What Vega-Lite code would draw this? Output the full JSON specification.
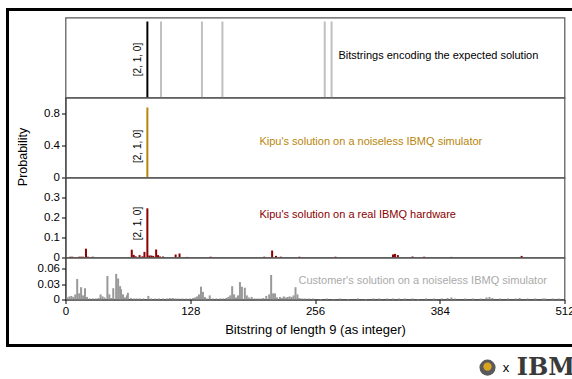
{
  "$schema": "https://vega.github.io/schema/vega-lite/v6.json",
  "padding": {"left": 4.5, "top": 6.5, "right": 0, "bottom": 0},
  "background": "white",
  "spacing": 0,
  "bounds": "flush",
  "config": {
    "font": "Liberation Sans",
    "view": {"stroke": "#555", "strokeWidth": 1.2},
    "axis": {"labelFont": "Liberation Sans", "labelFontSize": 11.5, "labelColor": "#000", "tickColor": "#000", "domainColor": "#333", "grid": false, "labelOverlap": false, "tickCount": 20, "titleFont": "Liberation Sans", "titleFontWeight": "normal", "titleColor": "#000"}
  },
  "datasets": {
    "one": [{"n": 1}],
    "expected": [
      {"x": 84, "kind": "main"}, {"x": 98, "kind": "other"}, {"x": 140, "kind": "other"},
      {"x": 161, "kind": "other"}, {"x": 266, "kind": "other"}, {"x": 273, "kind": "other"}
    ],
    "kipuSim": [
      {"x": 84, "p": 0.875}, {"x": 100, "p": 0.004}, {"x": 113, "p": 0.004},
      {"x": 197, "p": 0.004}, {"x": 336, "p": 0.004}, {"x": 339, "p": 0.004}
    ],
    "kipuHw": [
      {"x": 5, "p": 0.004}, {"x": 7, "p": 0.004}, {"x": 14, "p": 0.004}, {"x": 16, "p": 0.004}, {"x": 18, "p": 0.004},
      {"x": 21, "p": 0.044}, {"x": 23, "p": 0.004}, {"x": 28, "p": 0.004}, {"x": 68, "p": 0.039}, {"x": 70, "p": 0.013},
      {"x": 72, "p": 0.006}, {"x": 76, "p": 0.012}, {"x": 79, "p": 0.006}, {"x": 81, "p": 0.028}, {"x": 84, "p": 0.246},
      {"x": 86, "p": 0.01}, {"x": 88, "p": 0.01}, {"x": 90, "p": 0.008}, {"x": 93, "p": 0.04}, {"x": 95, "p": 0.012},
      {"x": 97, "p": 0.005}, {"x": 100, "p": 0.005}, {"x": 113, "p": 0.015}, {"x": 117, "p": 0.02}, {"x": 125, "p": 0.003},
      {"x": 149, "p": 0.004}, {"x": 204, "p": 0.004}, {"x": 212, "p": 0.035}, {"x": 216, "p": 0.008}, {"x": 221, "p": 0.004},
      {"x": 240, "p": 0.004}, {"x": 277, "p": 0.004}, {"x": 336, "p": 0.015}, {"x": 338, "p": 0.018}, {"x": 341, "p": 0.012},
      {"x": 356, "p": 0.005}, {"x": 368, "p": 0.004}, {"x": 396, "p": 0.003}, {"x": 468, "p": 0.008}
    ],
    "customer": [
      {"x": 2, "p": 0.004}, {"x": 4, "p": 0.006}, {"x": 6, "p": 0.007}, {"x": 8, "p": 0.005}, {"x": 10, "p": 0.01},
      {"x": 12, "p": 0.04}, {"x": 14, "p": 0.012}, {"x": 16, "p": 0.024}, {"x": 18, "p": 0.008}, {"x": 20, "p": 0.022},
      {"x": 22, "p": 0.005}, {"x": 25, "p": 0.002}, {"x": 28, "p": 0.002}, {"x": 31, "p": 0.002}, {"x": 34, "p": 0.003},
      {"x": 36, "p": 0.01}, {"x": 38, "p": 0.006}, {"x": 40, "p": 0.004}, {"x": 43, "p": 0.046}, {"x": 45, "p": 0.01},
      {"x": 47, "p": 0.003}, {"x": 49, "p": 0.022}, {"x": 52, "p": 0.05}, {"x": 54, "p": 0.041}, {"x": 56, "p": 0.026},
      {"x": 57, "p": 0.02}, {"x": 59, "p": 0.01}, {"x": 61, "p": 0.004}, {"x": 63, "p": 0.008}, {"x": 64, "p": 0.013},
      {"x": 67, "p": 0.003}, {"x": 70, "p": 0.002}, {"x": 73, "p": 0.002}, {"x": 76, "p": 0.002}, {"x": 80, "p": 0.002},
      {"x": 85, "p": 0.007}, {"x": 88, "p": 0.002}, {"x": 92, "p": 0.002}, {"x": 96, "p": 0.002}, {"x": 100, "p": 0.002},
      {"x": 104, "p": 0.002}, {"x": 107, "p": 0.003}, {"x": 110, "p": 0.003}, {"x": 113, "p": 0.002}, {"x": 116, "p": 0.002},
      {"x": 120, "p": 0.002}, {"x": 124, "p": 0.002}, {"x": 128, "p": 0.002}, {"x": 131, "p": 0.003}, {"x": 133, "p": 0.004},
      {"x": 135, "p": 0.006}, {"x": 137, "p": 0.01}, {"x": 139, "p": 0.025}, {"x": 141, "p": 0.015}, {"x": 143, "p": 0.005},
      {"x": 145, "p": 0.002}, {"x": 148, "p": 0.008}, {"x": 151, "p": 0.002}, {"x": 155, "p": 0.002}, {"x": 159, "p": 0.002},
      {"x": 162, "p": 0.002}, {"x": 165, "p": 0.003}, {"x": 167, "p": 0.005}, {"x": 169, "p": 0.008}, {"x": 171, "p": 0.026},
      {"x": 173, "p": 0.01}, {"x": 175, "p": 0.004}, {"x": 177, "p": 0.008}, {"x": 179, "p": 0.034}, {"x": 181, "p": 0.025},
      {"x": 184, "p": 0.023}, {"x": 186, "p": 0.008}, {"x": 188, "p": 0.004}, {"x": 191, "p": 0.005}, {"x": 194, "p": 0.002},
      {"x": 197, "p": 0.002}, {"x": 200, "p": 0.002}, {"x": 203, "p": 0.003}, {"x": 206, "p": 0.007}, {"x": 209, "p": 0.01},
      {"x": 211, "p": 0.048}, {"x": 213, "p": 0.012}, {"x": 215, "p": 0.012}, {"x": 217, "p": 0.004}, {"x": 220, "p": 0.005},
      {"x": 222, "p": 0.003}, {"x": 224, "p": 0.006}, {"x": 226, "p": 0.004}, {"x": 228, "p": 0.005}, {"x": 230, "p": 0.006},
      {"x": 232, "p": 0.005}, {"x": 234, "p": 0.008}, {"x": 236, "p": 0.024}, {"x": 238, "p": 0.01}, {"x": 240, "p": 0.003},
      {"x": 243, "p": 0.002}, {"x": 246, "p": 0.002}, {"x": 250, "p": 0.002}, {"x": 254, "p": 0.002}, {"x": 262, "p": 0.001},
      {"x": 268, "p": 0.002}, {"x": 275, "p": 0.001}, {"x": 282, "p": 0.002}, {"x": 290, "p": 0.001}, {"x": 300, "p": 0.002},
      {"x": 308, "p": 0.001}, {"x": 316, "p": 0.002}, {"x": 322, "p": 0.002}, {"x": 330, "p": 0.002}, {"x": 336, "p": 0.002},
      {"x": 342, "p": 0.002}, {"x": 348, "p": 0.002}, {"x": 356, "p": 0.002}, {"x": 362, "p": 0.001}, {"x": 370, "p": 0.002},
      {"x": 378, "p": 0.002}, {"x": 386, "p": 0.002}, {"x": 392, "p": 0.003}, {"x": 396, "p": 0.004}, {"x": 400, "p": 0.002},
      {"x": 410, "p": 0.002}, {"x": 418, "p": 0.002}, {"x": 426, "p": 0.002}, {"x": 432, "p": 0.004}, {"x": 435, "p": 0.005},
      {"x": 438, "p": 0.003}, {"x": 446, "p": 0.002}, {"x": 454, "p": 0.002}, {"x": 462, "p": 0.002}, {"x": 466, "p": 0.003},
      {"x": 474, "p": 0.002}, {"x": 482, "p": 0.002}, {"x": 490, "p": 0.002}, {"x": 492, "p": 0.002}, {"x": 500, "p": 0.002},
      {"x": 506, "p": 0.002}
    ]
  },
  "vconcat": [
    {
      "width": 499, "height": 80,
      "layer": [
        {
          "data": {"name": "expected"},
          "mark": {"type": "rule", "strokeWidth": 2},
          "encoding": {
            "x": {"field": "x", "type": "quantitative", "scale": {"domain": [0, 512], "nice": false}, "axis": null},
            "y": {"datum": 0, "type": "quantitative", "scale": {"domain": [0, 1], "nice": false}, "axis": null},
            "y2": {"datum": 0.95},
            "color": {"field": "kind", "type": "nominal", "scale": {"domain": ["main", "other"], "range": ["#000000", "#c0c0c0"]}, "legend": null}
          }
        },
        {
          "data": {"name": "one"},
          "mark": {"type": "text", "angle": 270, "align": "center", "baseline": "middle", "dy": -9, "fontSize": 10, "color": "#000"},
          "encoding": {"x": {"datum": 84, "type": "quantitative"}, "y": {"datum": 0.475, "type": "quantitative"}, "text": {"value": "[2, 1, 0]"}}
        },
        {
          "data": {"name": "one"},
          "mark": {"type": "text", "align": "left", "baseline": "middle", "fontSize": 11, "color": "#000"},
          "encoding": {"x": {"datum": 280, "type": "quantitative"}, "y": {"datum": 0.525, "type": "quantitative"}, "text": {"value": "Bitstrings encoding the expected solution"}}
        }
      ]
    },
    {
      "width": 499, "height": 80,
      "layer": [
        {
          "data": {"name": "kipuSim"},
          "mark": {"type": "rule", "strokeWidth": 2, "color": "#b8860b"},
          "encoding": {
            "x": {"field": "x", "type": "quantitative", "scale": {"domain": [0, 512], "nice": false}, "axis": null},
            "y": {"field": "p", "type": "quantitative", "scale": {"domain": [0, 1], "nice": false},
              "axis": {"values": [0, 0.4, 0.8], "format": "~g", "title": "Probability", "titleFontSize": 12.5, "titleX": -43, "titleY": 59, "titleAngle": 270, "titleAlign": "center", "titleBaseline": "middle", "tickSize": 4, "labelPadding": 2}},
            "y2": {"datum": 0}
          }
        },
        {
          "data": {"name": "one"},
          "mark": {"type": "text", "angle": 270, "align": "center", "baseline": "middle", "dy": -9, "fontSize": 10, "color": "#000"},
          "encoding": {"x": {"datum": 84, "type": "quantitative"}, "y": {"datum": 0.39, "type": "quantitative"}, "text": {"value": "[2, 1, 0]"}}
        },
        {
          "data": {"name": "one"},
          "mark": {"type": "text", "align": "left", "baseline": "middle", "fontSize": 11, "color": "#b8860b"},
          "encoding": {"x": {"datum": 199, "type": "quantitative"}, "y": {"datum": 0.44, "type": "quantitative"}, "text": {"value": "Kipu's solution on a noiseless IBMQ simulator"}}
        }
      ]
    },
    {
      "width": 499, "height": 80,
      "layer": [
        {
          "data": {"name": "kipuHw"},
          "mark": {"type": "rule", "strokeWidth": 2, "color": "#8b0000"},
          "encoding": {
            "x": {"field": "x", "type": "quantitative", "scale": {"domain": [0, 512], "nice": false}, "axis": null},
            "y": {"field": "p", "type": "quantitative", "scale": {"domain": [0, 0.4], "nice": false},
              "axis": {"values": [0, 0.1, 0.2, 0.3], "format": "~g", "title": null, "tickSize": 4, "labelPadding": 2}},
            "y2": {"datum": 0}
          }
        },
        {
          "data": {"name": "one"},
          "mark": {"type": "text", "angle": 270, "align": "center", "baseline": "middle", "dy": -9, "fontSize": 10, "color": "#000"},
          "encoding": {"x": {"datum": 84, "type": "quantitative"}, "y": {"datum": 0.17, "type": "quantitative"}, "text": {"value": "[2, 1, 0]"}}
        },
        {
          "data": {"name": "one"},
          "mark": {"type": "text", "align": "left", "baseline": "middle", "fontSize": 11, "color": "#8b0000"},
          "encoding": {"x": {"datum": 199, "type": "quantitative"}, "y": {"datum": 0.215, "type": "quantitative"}, "text": {"value": "Kipu's solution on a real IBMQ hardware"}}
        }
      ]
    },
    {
      "width": 499, "height": 42,
      "layer": [
        {
          "data": {"name": "customer"},
          "mark": {"type": "rule", "strokeWidth": 2, "color": "#999999"},
          "encoding": {
            "x": {"field": "x", "type": "quantitative", "scale": {"domain": [0, 512], "nice": false},
              "axis": {"values": [0, 128, 256, 384, 512], "title": "Bitstring of length 9 (as integer)", "titleFontSize": 13, "titlePadding": 6, "tickSize": 4, "labelPadding": 2, "labelFlush": false}},
            "y": {"field": "p", "type": "quantitative", "scale": {"domain": [0, 0.082], "nice": false},
              "axis": {"values": [0, 0.03, 0.06], "format": "~g", "title": null, "tickSize": 4, "labelPadding": 2}},
            "y2": {"datum": 0}
          }
        },
        {
          "data": {"name": "one"},
          "mark": {"type": "text", "align": "left", "baseline": "middle", "fontSize": 11, "color": "#aaaaaa"},
          "encoding": {"x": {"datum": 239, "type": "quantitative"}, "y": {"datum": 0.037, "type": "quantitative"}, "text": {"value": "Customer's solution on a noiseless IBMQ simulator"}}
        },
        {
          "data": {"name": "one"},
          "mark": {"type": "rect", "fill": null, "stroke": "#000", "strokeWidth": 3, "clip": false},
          "encoding": {"x": {"datum": -59.5, "type": "quantitative"}, "x2": {"datum": 525}, "y": {"datum": 0.566, "type": "quantitative"}, "y2": {"datum": -0.09}}
        },
        {
          "data": {"name": "one"},
          "mark": {"type": "point", "shape": "circle", "filled": true, "size": 260, "color": "#5a5a5a", "opacity": 1},
          "encoding": {"x": {"datum": 433, "type": "quantitative"}, "y": {"datum": -0.133, "type": "quantitative"}}
        },
        {
          "data": {"name": "one"},
          "mark": {"type": "point", "shape": "circle", "filled": true, "size": 70, "color": "#d9a520", "opacity": 1},
          "encoding": {"x": {"datum": 433, "type": "quantitative"}, "y": {"datum": -0.131, "type": "quantitative"}}
        },
        {
          "data": {"name": "one"},
          "mark": {"type": "text", "align": "center", "baseline": "middle", "fontSize": 13, "color": "#000"},
          "encoding": {"x": {"datum": 452, "type": "quantitative"}, "y": {"datum": -0.133, "type": "quantitative"}, "text": {"value": "x"}}
        },
        {
          "data": {"name": "one"},
          "mark": {"type": "text", "align": "left", "baseline": "middle", "fontSize": 24, "fontWeight": "bold", "font": "DejaVu Serif", "color": "#3a3a3a"},
          "encoding": {"x": {"datum": 463, "type": "quantitative"}, "y": {"datum": -0.133, "type": "quantitative"}, "text": {"value": "IBM"}}
        }
      ]
    }
  ]
}
